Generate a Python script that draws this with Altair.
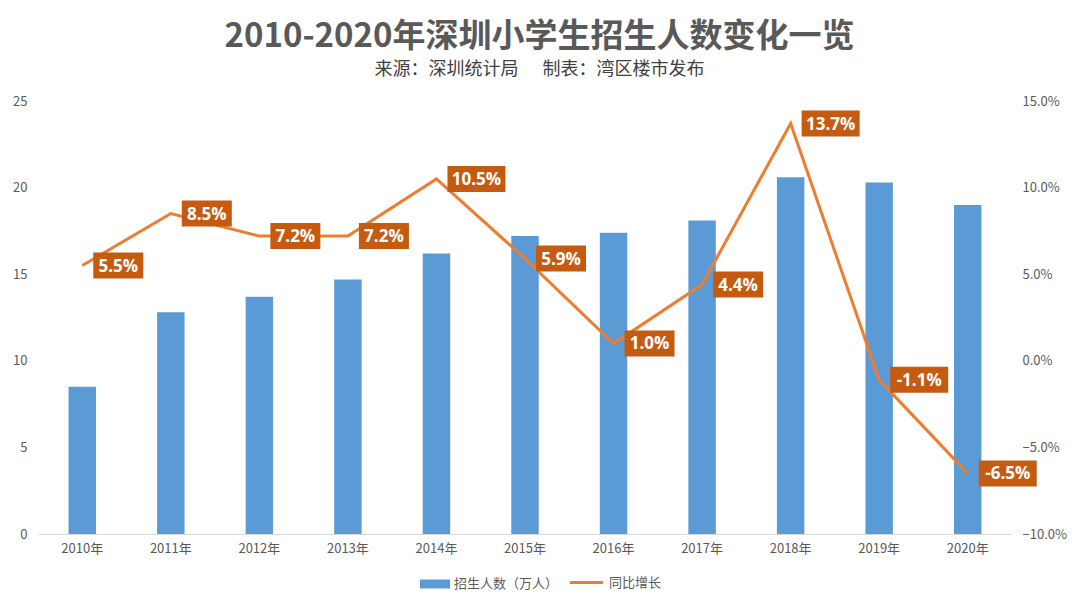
import altair as alt
import pandas as pd

years = ['2010年', '2011年', '2012年', '2013年', '2014年', '2015年',
         '2016年', '2017年', '2018年', '2019年', '2020年']
enroll = [8.5, 12.8, 13.7, 14.7, 16.2, 17.2, 17.4, 18.1, 20.6, 20.3, 19.0]
growth_pct = [5.5, 8.5, 7.2, 7.2, 10.5, 5.9, 1.0, 4.4, 13.7, -1.1, -6.5]

bar_name = '招生人数（万人）'
line_name = '同比增长'

df = pd.DataFrame({
    'year': years,
    'enroll': enroll,
    'growth': [g / 100 for g in growth_pct],
    'label': [f"{g:.1f}%" for g in growth_pct],
    's1': bar_name,
    's2': line_name,
})
df['wide'] = df['label'].str.len() > 4

FONT = 'Noto Sans CJK SC'
BLUE = '#5B9BD5'
ORANGE = '#ED7D31'
BOX = '#C55A11'
GREY = '#595959'

xenc = alt.X('year:N', sort=years, title=None,
             scale=alt.Scale(paddingInner=0.69, paddingOuter=0.345),
             axis=alt.Axis(labelAngle=0, ticks=False, labelFontSize=13,
                           labelColor=GREY, domainColor='#D9D9D9',
                           labelPadding=8, labelFont=FONT))

rscale = alt.Scale(domain=[-0.1, 0.15], nice=False, zero=False)

base = alt.Chart(df)

bars = base.mark_bar(color=BLUE).encode(
    x=xenc,
    y=alt.Y('enroll:Q', title=None,
            scale=alt.Scale(domain=[0, 25], nice=False),
            axis=alt.Axis(orient='left', values=[0, 5, 10, 15, 20, 25],
                          ticks=False, domain=False, grid=False,
                          labelFontSize=13, labelColor=GREY,
                          labelPadding=11, labelFont=FONT)),
    color=alt.Color('s1:N', title=None,
                    scale=alt.Scale(domain=[bar_name], range=[BLUE]),
                    legend=alt.Legend(orient='none', legendX=382, legendY=468,
                                      symbolType='M-1,-0.3L1,-0.3L1,0.3L-1,0.3Z',
                                      symbolSize=900, labelFontSize=13,
                                      labelColor=GREY, labelFont=FONT,
                                      symbolStrokeWidth=0)),
)

line = base.mark_line(strokeWidth=3).encode(
    x=xenc,
    y=alt.Y('growth:Q', title=None, scale=rscale,
            axis=alt.Axis(orient='right', values=[-0.1, -0.05, 0, 0.05, 0.1, 0.15],
                          format='.1%', ticks=False, domain=False, grid=False,
                          labelFontSize=13, labelColor=GREY,
                          labelPadding=10, labelFont=FONT)),
    stroke=alt.Stroke('s2:N', title=None,
                      scale=alt.Scale(domain=[line_name], range=[ORANGE]),
                      legend=alt.Legend(orient='none', legendX=530, legendY=463,
                                        symbolType='stroke',
                                        symbolStrokeWidth=3, symbolSize=1100,
                                        labelFontSize=13, labelColor=GREY,
                                        labelFont=FONT)),
)

def box_layer(wide, w, off):
    h = 26
    unit = w / 2
    path = f"M-1,{-h/2/unit:.4f}L1,{-h/2/unit:.4f}L1,{h/2/unit:.4f}L-1,{h/2/unit:.4f}Z"
    yenc = alt.Y('growth:Q', scale=rscale, axis=None)
    sub = base.transform_filter(alt.datum.wide == wide)
    rect = sub.mark_point(shape=path, size=w * w, filled=True, opacity=1,
                          color=BOX, strokeWidth=0, xOffset=off).encode(
        x=xenc, y=yenc)
    txt = sub.mark_text(color='white', fontWeight='bold', fontSize=17,
                        font='Open Sans', align='center', baseline='middle',
                        xOffset=off, dy=1).encode(
        x=xenc, y=yenc, text='label:N')
    return rect, txt

r1, t1 = box_layer(False, 50, 36)
r2, t2 = box_layer(True, 58, 40)

chart = alt.layer(bars, line, r1, r2, t1, t2).resolve_scale(
    y='independent', color='independent', stroke='independent'
).properties(
    width=974, height=433,
    padding={'left': 4, 'top': 13, 'right': 5, 'bottom': 5},
    title=alt.TitleParams(
        text='2010-2020年深圳小学生招生人数变化一览',
        subtitle='来源：深圳统计局\u00a0\u00a0\u00a0\u00a0\u00a0\u00a0制表：湾区楼市发布',
        font=FONT, fontSize=33, fontWeight='bold', color=GREY,
        subtitleFont=FONT, subtitleFontSize=18, subtitleColor='#404040',
        subtitlePadding=7, anchor='middle', frame='bounds', offset=16),
).configure_view(stroke=None)

chart.save("out.html", embed_options={"renderer": "svg", "actions": False})
